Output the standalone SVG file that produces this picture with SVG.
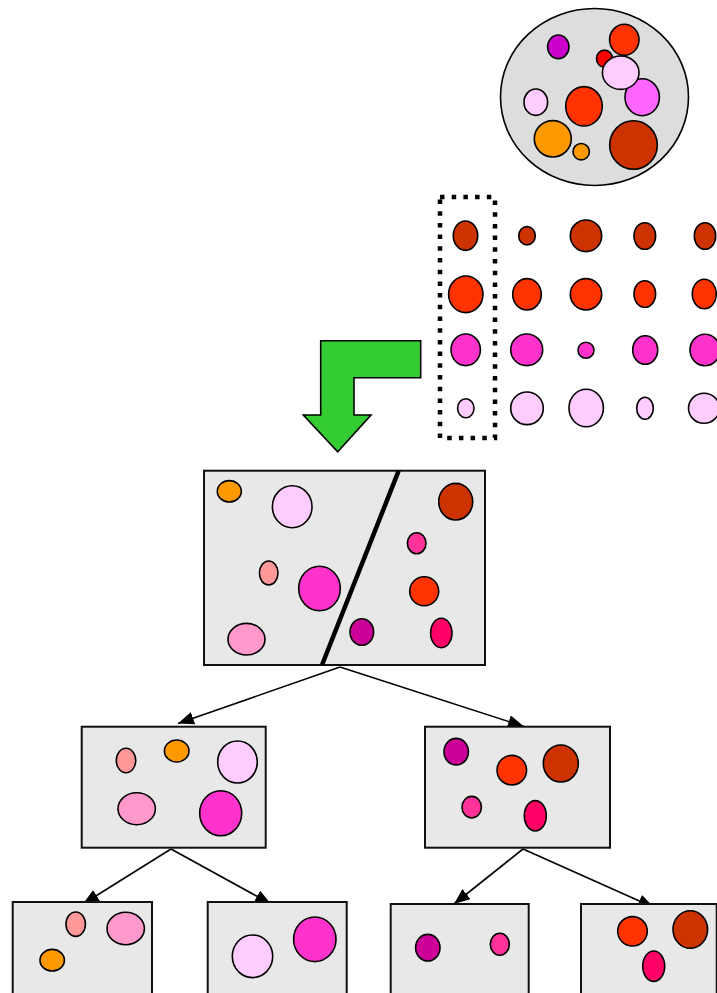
<svg xmlns="http://www.w3.org/2000/svg" width="717" height="993" viewBox="0 0 717 993">
<style>
.b{stroke:#000;stroke-width:1.6}
.box{fill:#e8e8e8;stroke:#111;stroke-width:2}
.c1{fill:#cc3300}.c2{fill:#ff3300}.c3{fill:#ff33cc}.c4{fill:#ffccff}
.or{fill:#ff9900}.sa{fill:#ff9999}.pk{fill:#ff99cc}.pu{fill:#cc0099}.hp{fill:#ff0066}.p3{fill:#ff3399}
.conn{stroke:#000;stroke-width:1.6;fill:none;marker-end:url(#ah)}
</style>
<defs>
<marker id="ah" markerUnits="userSpaceOnUse" markerWidth="18" markerHeight="14" refX="16" refY="6.5" orient="auto">
<path d="M0,0 L16,6.5 L0,13 z" fill="#000"/>
</marker>
</defs>
<rect width="717" height="993" fill="#fff"/>

<g id="pool">
<ellipse cx="594.5" cy="97" rx="94" ry="88.5" fill="#dddddd" class="b"/>
<ellipse cx="558.3" cy="46.8" rx="10.7" ry="11.8" fill="#cc00cc" class="b"/>
<ellipse cx="624.3" cy="39.8" rx="14.7" ry="15.5" class="b c2"/>
<ellipse cx="604.5" cy="58.7" rx="8" ry="8.6" fill="#ff0000" class="b"/>
<ellipse cx="642.2" cy="97.2" rx="17.2" ry="18.5" fill="#ff66ff" class="b"/>
<ellipse cx="620.7" cy="72.7" rx="18.3" ry="16.7" class="b c4"/>
<ellipse cx="535.8" cy="102.2" rx="11.8" ry="13.2" class="b c4"/>
<ellipse cx="584" cy="106.3" rx="18.3" ry="19.7" class="b c2"/>
<ellipse cx="552.8" cy="138.8" rx="18.5" ry="18.2" class="b or"/>
<ellipse cx="581.2" cy="151.7" rx="8.2" ry="8.2" class="b or"/>
<ellipse cx="633.5" cy="145" rx="23.8" ry="24.3" class="b c1"/>
</g>

<g id="grid">
<ellipse cx="465.5" cy="235.7" rx="12.2" ry="14.7" class="b c1"/>
<ellipse cx="527" cy="235.8" rx="8.3" ry="9.2" class="b c1"/>
<ellipse cx="586" cy="235.8" rx="15.7" ry="15.8" class="b c1"/>
<ellipse cx="644.8" cy="236" rx="10.8" ry="13.3" class="b c1"/>
<ellipse cx="705" cy="236" rx="10.7" ry="13.3" class="b c1"/>
<ellipse cx="465.8" cy="294.3" rx="17.2" ry="18.3" class="b c2"/>
<ellipse cx="527" cy="294.3" rx="14.3" ry="15.7" class="b c2"/>
<ellipse cx="586" cy="294.3" rx="15.7" ry="15.7" class="b c2"/>
<ellipse cx="644.8" cy="294" rx="10.8" ry="13.3" class="b c2"/>
<ellipse cx="704.3" cy="294" rx="12" ry="14.7" class="b c2"/>
<ellipse cx="465.7" cy="349.8" rx="14.7" ry="15.8" class="b c3"/>
<ellipse cx="526.7" cy="349.8" rx="16" ry="15.8" class="b c3"/>
<ellipse cx="586" cy="350.2" rx="8" ry="8" class="b c3"/>
<ellipse cx="645.2" cy="350" rx="12.5" ry="14.3" class="b c3"/>
<ellipse cx="705" cy="350" rx="15" ry="15.8" class="b c3"/>
<ellipse cx="465.8" cy="408.2" rx="8.2" ry="9.5" class="b c4"/>
<ellipse cx="527" cy="408.3" rx="16.3" ry="16.3" class="b c4"/>
<ellipse cx="586.2" cy="408" rx="17.2" ry="18.7" class="b c4"/>
<ellipse cx="645" cy="408.3" rx="8.3" ry="11" class="b c4"/>
<ellipse cx="704" cy="408.3" rx="15.5" ry="15" class="b c4"/>
<rect x="440" y="197" width="55" height="241" fill="none" stroke="#000" stroke-width="4.5" stroke-dasharray="4.5 7.2"/>
</g>

<g id="arrow">
<path d="M320.7,340.7 L420.7,340.7 L420.7,377.7 L354,377.7 L354,415 L371,415 L337.7,451.7 L303.3,415 L320.7,415 Z" fill="#33cc33" stroke="#000" stroke-width="1.6"/>
</g>

<g id="connectors">
<line x1="340" y1="667" x2="178" y2="723.5" class="conn"/>
<line x1="340" y1="667" x2="524" y2="726.5" class="conn"/>
<line x1="171" y1="849" x2="83" y2="904" class="conn"/>
<line x1="171" y1="849" x2="271" y2="904" class="conn"/>
<line x1="523" y1="849" x2="454" y2="904" class="conn"/>
<line x1="523" y1="849" x2="654" y2="907.5" class="conn"/>
</g>

<g id="root">
<rect x="204" y="470.7" width="281" height="194.3" class="box"/>
<ellipse cx="229.3" cy="491.3" rx="12" ry="10.7" class="b or"/>
<ellipse cx="292.2" cy="506.7" rx="19.8" ry="21" class="b c4"/>
<ellipse cx="268.7" cy="573" rx="9.3" ry="12" class="b sa"/>
<ellipse cx="319.5" cy="588.5" rx="20.8" ry="22.2" class="b c3"/>
<ellipse cx="246.5" cy="639.2" rx="18.5" ry="15.8" class="b pk"/>
<ellipse cx="455.7" cy="501.7" rx="17" ry="18.3" class="b c1"/>
<ellipse cx="416.7" cy="543.2" rx="9.3" ry="10.5" class="b p3"/>
<ellipse cx="424.2" cy="591.2" rx="14.5" ry="14.5" class="b c2"/>
<ellipse cx="361.8" cy="632" rx="11.8" ry="13.3" class="b pu"/>
<ellipse cx="441.3" cy="633" rx="10.7" ry="14.7" class="b hp"/>
<line x1="398.7" y1="470.7" x2="322" y2="665" stroke="#000" stroke-width="4.5"/>
</g>

<g id="left">
<rect x="81.7" y="726.7" width="184" height="121" class="box"/>
<ellipse cx="126" cy="760.5" rx="9.7" ry="12.2" class="b sa"/>
<ellipse cx="176.7" cy="751" rx="12.3" ry="11" class="b or"/>
<ellipse cx="237.5" cy="762" rx="19.8" ry="21" class="b c4"/>
<ellipse cx="136.7" cy="808.7" rx="18.7" ry="16" class="b pk"/>
<ellipse cx="220.7" cy="813.2" rx="21" ry="22.5" class="b c3"/>
</g>

<g id="right">
<rect x="425" y="726.7" width="185" height="121" class="box"/>
<ellipse cx="456.2" cy="751.7" rx="12.2" ry="13.3" class="b pu"/>
<ellipse cx="511.8" cy="770.2" rx="14.8" ry="14.8" class="b c2"/>
<ellipse cx="560.8" cy="763.5" rx="17.5" ry="18.5" class="b c1"/>
<ellipse cx="471.7" cy="807.2" rx="9.7" ry="10.8" class="b p3"/>
<ellipse cx="535.3" cy="815.8" rx="11" ry="15.2" class="b hp"/>
</g>

<g id="ll">
<rect x="12.7" y="902" width="139.3" height="100" class="box"/>
<ellipse cx="75.7" cy="924.2" rx="9.7" ry="12.2" class="b sa"/>
<ellipse cx="125.7" cy="928.5" rx="18.7" ry="16.2" class="b pk"/>
<ellipse cx="52.2" cy="960.2" rx="12.2" ry="10.8" class="b or"/>
</g>

<g id="lr">
<rect x="207.7" y="902" width="139" height="100" class="box"/>
<ellipse cx="252.5" cy="956.3" rx="20.2" ry="21.3" class="b c4"/>
<ellipse cx="314.8" cy="939.3" rx="21.2" ry="22.3" class="b c3"/>
</g>

<g id="rl">
<rect x="390.7" y="904" width="138" height="100" class="box"/>
<ellipse cx="427.8" cy="947.7" rx="12.2" ry="13.3" class="b pu"/>
<ellipse cx="499.8" cy="944.3" rx="9.5" ry="11" class="b p3"/>
</g>

<g id="rr">
<rect x="581" y="904" width="135.7" height="100" class="box"/>
<ellipse cx="632.5" cy="931.3" rx="14.8" ry="14.7" class="b c2"/>
<ellipse cx="690.3" cy="929.5" rx="17.3" ry="18.8" class="b c1"/>
<ellipse cx="653.7" cy="966.2" rx="11" ry="15.2" class="b hp"/>
</g>
</svg>
